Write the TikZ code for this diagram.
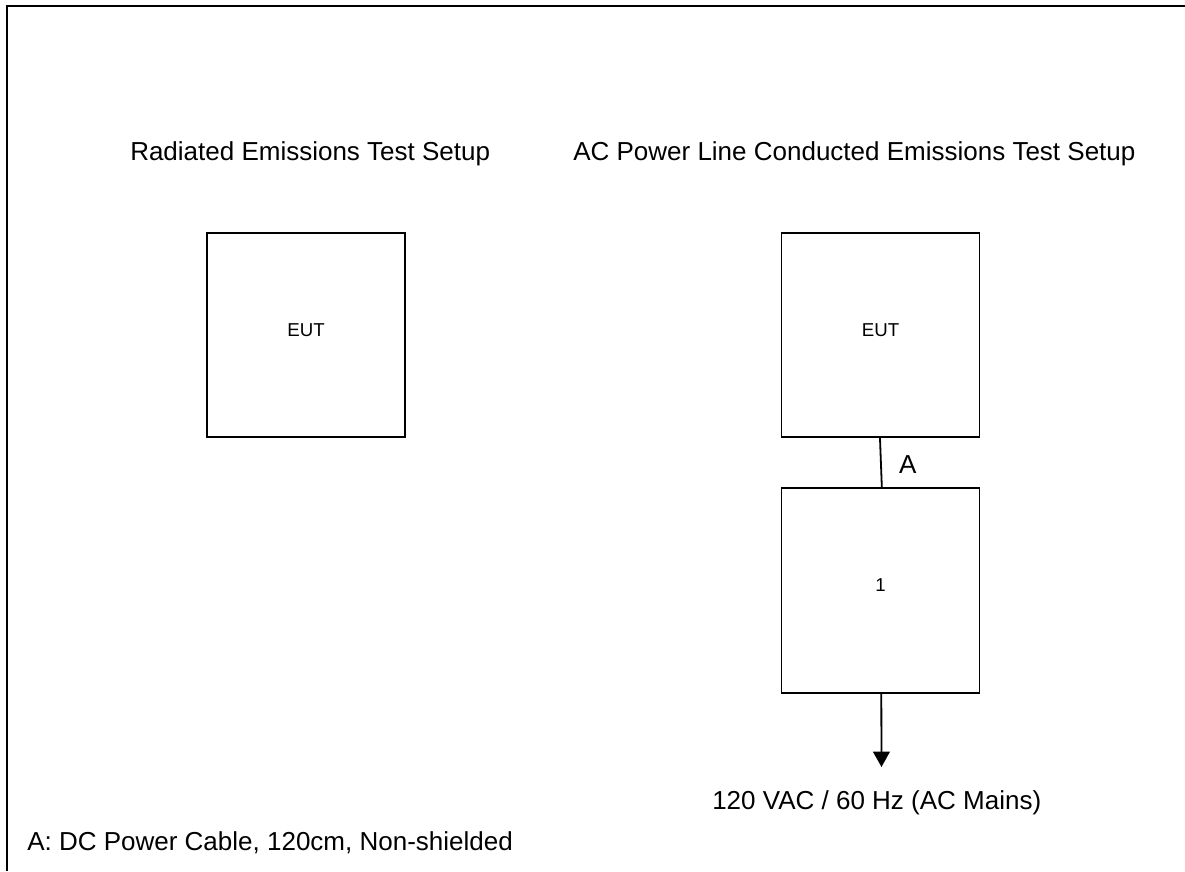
\documentclass[tikz,border=0pt]{standalone}
\usepackage{fontspec}
\setmainfont{Liberation Sans}
\usetikzlibrary{arrows.meta}
\tikzset{
  frameline/.style={line width=1.6pt},
  boxnode/.style={draw, line width=1.35pt, minimum width=148.5pt, minimum height=153pt, inner sep=0pt, text depth=7.5pt, font=\fontsize{14}{17}\selectfont},
  bigtext/.style={anchor=base west, inner sep=0pt, font=\fontsize{19.5}{23}\selectfont},
  wire/.style={line width=1.35pt},
}
\begin{document}
\begin{tikzpicture}[x=0.75pt,y=-0.75pt]
\useasboundingbox (0,0) rectangle (1185,871);
% frame (left and top only)
\coordinate (fbl) at (7,871);
\coordinate (ftl) at (7,6);
\coordinate (ftr) at (1185,6);
\draw[frameline] (fbl) -- (ftl) -- (ftr);
% titles
\node[bigtext] (t1) at (130,160) {Radiated Emissions Test Setup};
\node[bigtext] (t2) at (573,160) {AC Power Line Conducted Emissions Test Setup};
% boxes
\node[boxnode] (eut1) at (306,335) {EUT};
\node[boxnode] (eut2) at (880.5,335) {EUT};
\node[boxnode, minimum height=153.75pt] (aux1) at (880.5,590.5) {1};
% cable A
\draw[wire] ([xshift=-0.4pt]eut2.south) -- node[pos=0.55, right=13pt, inner sep=0pt, font=\fontsize{19.5}{23}\selectfont] (la) {A} ([xshift=1pt]aux1.north);
% mains
\coordinate (tip) at (881.5,767);
\draw[wire, -{Triangle[length=11.5pt,width=12.5pt]}] ([xshift=0.6pt]aux1.south) -- (tip);
\node[bigtext] (mains) at (712,809) {120 VAC / 60 Hz (AC Mains)};
% note
\node[bigtext] (note) at (27,850) {A: DC Power Cable, 120cm, Non-shielded};
\end{tikzpicture}
\end{document}
